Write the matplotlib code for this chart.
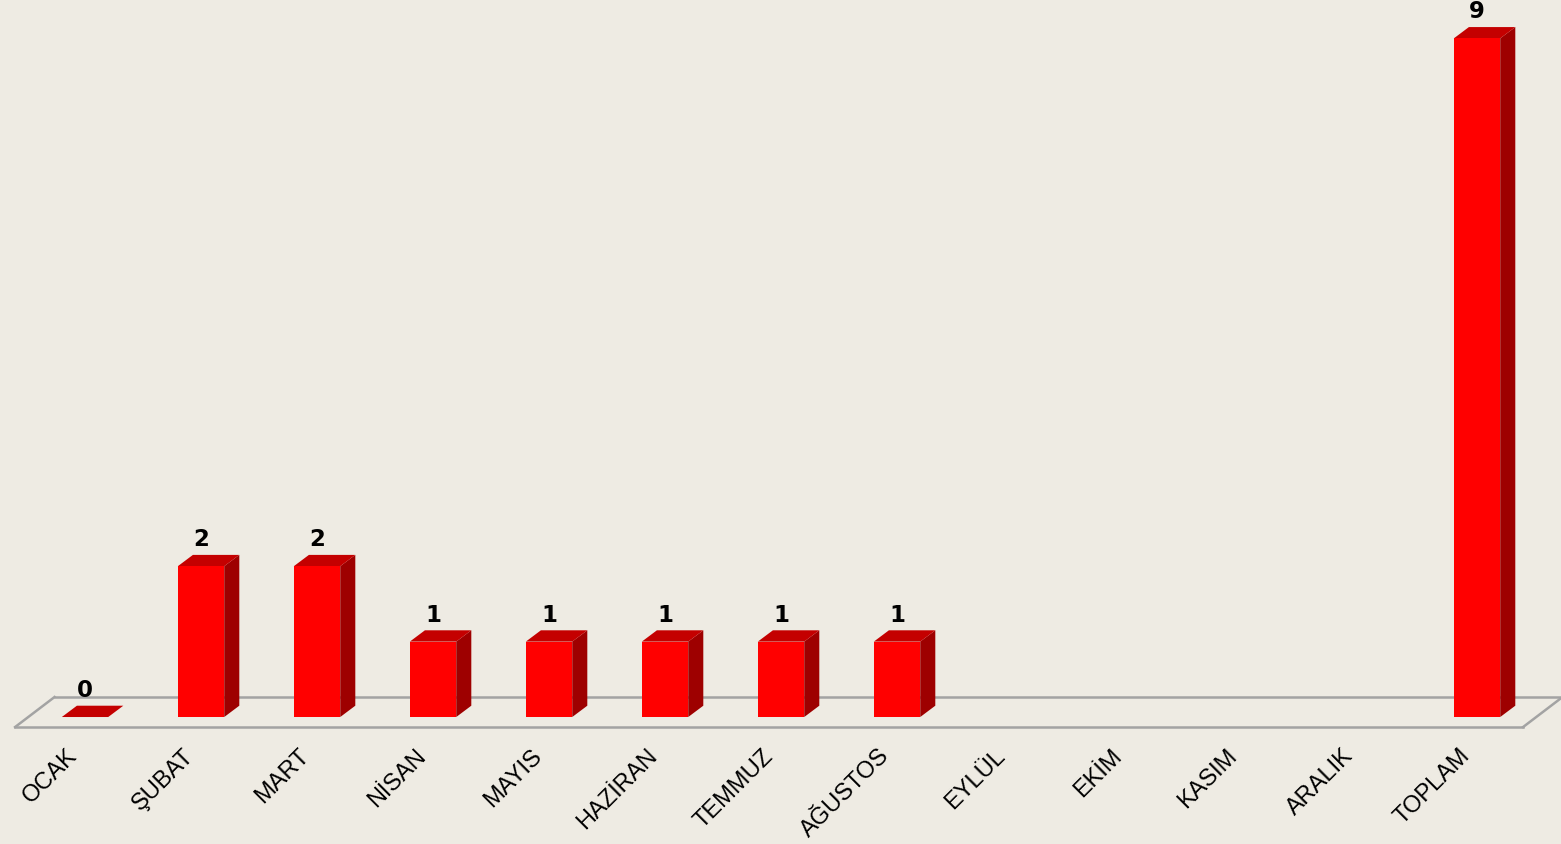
import numpy as np
import matplotlib
matplotlib.use("Agg")
import matplotlib.pyplot as plt
from matplotlib.patches import Polygon

# ---- data ----
months = ["OCAK", "ŞUBAT", "MART", "NİSAN", "MAYIS", "HAZİRAN", "TEMMUZ",
          "AĞUSTOS", "EYLÜL", "EKİM", "KASIM", "ARALIK", "TOPLAM"]
values = [0, 2, 2, 1, 1, 1, 1, 1, np.nan, np.nan, np.nan, np.nan, 9]

BG = "#EEEBE3"
FRONT = "#FF0000"
SIDE = "#9E0000"
TOP = "#C40000"
FLOOR = "#A3A3A3"

HALF_W = 0.2      # half width of the front face
DX, DY = 0.13, 0.15   # depth offset of bars (pseudo 3D)

fig = plt.figure(figsize=(15.61, 8.44), dpi=100, facecolor=BG)
ax = fig.add_axes([0, 0, 1, 1])
ax.set_facecolor(BG)
ax.set_xlim(-0.733, 12.724)
ax.set_ylim(-1.684, 9.509)
ax.axis("off")

# floor plane
n = len(months)
fx0, fx1 = -0.603, n - 0.603
fy_front, fy_back = -0.133, 0.265
fdx = 0.34
ax.plot([fx0 + fdx, fx1 + fdx + 0.05], [fy_back, fy_back], color=FLOOR, lw=1.8, zorder=1)
ax.plot([fx0, fx1], [fy_front, fy_front], color=FLOOR, lw=1.8, zorder=1)
ax.plot([fx0, fx0 + fdx], [fy_front, fy_back], color=FLOOR, lw=1.8, zorder=1)
ax.plot([fx1, fx1 + fdx], [fy_front, fy_back], color=FLOOR, lw=1.8, zorder=1)

# bars
for i, v in enumerate(values):
    if np.isnan(v):
        continue
    xl, xr = i - HALF_W, i + HALF_W
    if v == 0:
        ax.add_patch(Polygon([(xl, 0), (xr, 0), (xr + DX, DY), (xl + DX, DY)],
                             closed=True, fc=TOP, ec="none", zorder=3))
    else:
        ax.add_patch(Polygon([(xr, 0), (xr + DX, DY), (xr + DX, v + DY), (xr, v)],
                             closed=True, fc=SIDE, ec="none", zorder=3))
        ax.add_patch(Polygon([(xl, v), (xr, v), (xr + DX, v + DY), (xl + DX, v + DY)],
                             closed=True, fc=TOP, ec="none", zorder=3))
        ax.add_patch(Polygon([(xl, 0), (xr, 0), (xr, v), (xl, v)],
                             closed=True, fc=FRONT, ec="none", zorder=4))
    ax.text(i, v + 0.2, f"{v:g}", ha="center", va="bottom", fontsize=16.5,
            fontweight="semibold", family="DejaVu Sans", color="black", zorder=5)

# month labels
for i, m in enumerate(months):
    ax.text(i - 0.16, -0.37, m, rotation=45, rotation_mode="anchor",
            ha="right", va="top", fontsize=17, family="Liberation Sans",
            color="black")

plt.savefig("out.png", dpi=100, facecolor=BG)
plt.close()
